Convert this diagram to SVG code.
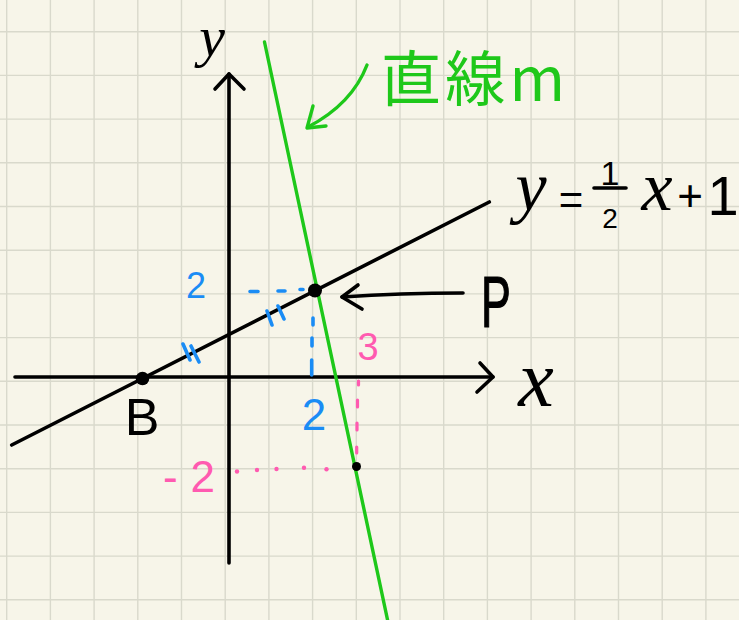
<svg xmlns="http://www.w3.org/2000/svg" width="739" height="620" viewBox="0 0 739 620">
<style>
.grid{stroke:#d9d9cc;stroke-width:1.4;fill:none}
.ink{stroke:#000;stroke-width:3.6;fill:none;stroke-linecap:round;stroke-linejoin:round}
.grn{stroke:#1ec81a;stroke-width:3.4;fill:none;stroke-linecap:round;stroke-linejoin:round}
.blu{stroke:#1a8cf5;stroke-width:3.6;fill:none;stroke-linecap:round}
.pnk{stroke:#ff5ab0;stroke-width:3.2;fill:none;stroke-linecap:round}
.var{font-family:"Liberation Serif",serif;font-style:italic;fill:#000}
.num{font-family:"Liberation Sans",Arial,sans-serif;fill:#000}
.tb{fill:#1a8cf5}
.tp{fill:#ff5ab0}
</style>
<rect width="739" height="620" fill="#f7f5e9"/>
<g id="grid">
<path class="grid" d="M6.7 0V620M50.4 0V620M94.1 0V620M137.8 0V620M181.5 0V620M225.2 0V620M268.9 0V620M312.6 0V620M356.3 0V620M400 0V620M443.7 0V620M487.4 0V620M531.1 0V620M574.8 0V620M618.5 0V620M662.2 0V620M705.9 0V620"/>
<path class="grid" d="M0 31.7H739M0 75.4H739M0 119.1H739M0 162.8H739M0 206.5H739M0 250.2H739M0 293.9H739M0 337.6H739M0 381.3H739M0 425H739M0 468.7H739M0 512.4H739M0 556.1H739M0 599.8H739"/>
</g>
<g id="connectors">
<g id="x-axis"><path class="ink" d="M15 377H493"/><path class="ink" d="M480 363L493 377L477 392"/></g>
<g id="y-axis"><path class="ink" d="M229 563V74"/><path class="ink" d="M215 89L229 74L244 89"/></g>
<g id="line-l"><path class="ink" d="M11.7 445L489.3 202"/></g>
<g id="line-m"><path class="grn" d="M264.5 42L388 622"/></g>
<g id="arrow-m"><path class="grn" d="M367 65Q352 104 308 127"/><path class="grn" d="M313 106L307 128L326 126"/></g>
<g id="arrow-p"><path class="ink" d="M463 293Q400 293 342 297"/><path class="ink" d="M358 285L342 297L362 309"/></g>
<g id="blue-guides">
<path class="blu" d="M250 291.5H258M278 291H285M300 289.5H303"/>
<path class="blu" d="M313 318V325M312 338V346M311.7 360V375"/>
<path class="blu" d="M183 344L190 360M191 346L199 362M267 311L272 325M278 306L284 319"/>
</g>
<g id="pink-guides">
<path class="pnk" d="M358.5 381V385M357.5 400V407M357 423V430M356.7 447V453"/>
<g fill="#ff5ab0"><circle cx="237" cy="471.5" r="2.2"/><circle cx="257" cy="470" r="2.2"/><circle cx="276.5" cy="469" r="2.2"/><circle cx="304" cy="467.8" r="2.2"/><circle cx="326.5" cy="469.3" r="2.2"/></g>
</g>
</g>
<g id="point-B"><circle cx="142.5" cy="378.5" r="6.8" fill="#000"/><text class="num" x="142" y="435" font-size="52" text-anchor="middle">B</text></g>
<g id="point-P"><circle cx="315" cy="290.5" r="7" fill="#000"/><text class="num" font-size="72" stroke="#000" stroke-width="1.2" transform="translate(481 327) scale(0.62 1)">P</text></g>
<g id="point-Q"><circle cx="356.5" cy="466.5" r="4.5" fill="#000"/></g>
<g id="label-y"><text class="var" x="212" y="56" font-size="58" text-anchor="middle">y</text></g>
<g id="label-x"><text class="var" x="536" y="406" font-size="80" text-anchor="middle">x</text></g>
<g id="label-eq">
<text class="var" x="531" y="210" font-size="70" text-anchor="middle">y</text>
<text class="num" x="571" y="214" font-size="42" text-anchor="middle">=</text>
<text class="num" x="610" y="185" font-size="34" text-anchor="middle">1</text>
<path class="ink" d="M594 188H626" stroke-width="3"/>
<text class="num" x="610" y="228" font-size="28" text-anchor="middle">2</text>
<text class="var" x="657" y="210" font-size="70" text-anchor="middle">x</text>
<text class="num" x="690" y="211" font-size="44" text-anchor="middle">+</text>
<text class="num" x="723" y="215" font-size="56" text-anchor="middle">1</text>
</g>
<g id="label-m"><text x="381" y="101" font-size="60" fill="#1ec81a" font-family="'Noto Sans CJK JP','Noto Sans CJK SC',sans-serif" textLength="184" lengthAdjust="spacing">直線m</text></g>
<g id="label-blue"><text class="num tb" x="196" y="298" font-size="36" text-anchor="middle">2</text><text class="num tb" x="314" y="430" font-size="44" text-anchor="middle">2</text></g>
<g id="label-pink"><text class="num tp" x="368" y="360" font-size="38" text-anchor="middle">3</text><text class="num tp" x="163" y="492" font-size="44" textLength="52" lengthAdjust="spacing">-2</text></g>
</svg>
